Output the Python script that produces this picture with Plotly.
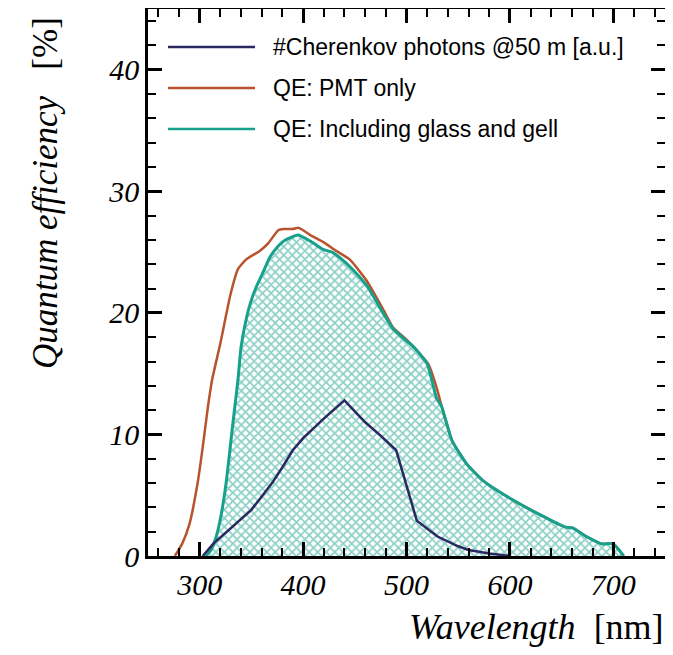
import plotly.graph_objects as go

# ---- data ----
pmt_nm = [276, 283, 290, 298, 303, 308, 312, 320, 325, 330, 337, 345, 358, 366, 376, 381,
          390, 395, 400, 407, 420, 432, 445, 461, 478, 487, 500, 510, 521, 529, 534, 544, 558,
          574, 603, 629, 653, 661, 674, 689, 700, 710]
pmt_qe = [0.0, 1.0, 2.6, 6.0, 9.0, 12.3, 14.5, 17.5, 19.6, 21.6, 23.6, 24.4, 25.1, 25.7,
          26.8, 26.9, 26.9, 27.0, 26.8, 26.4, 25.8, 25.1, 24.4, 22.7, 20.2, 18.8, 17.8, 16.9,
          15.8, 13.9, 12.3, 9.5, 7.6, 6.2, 4.6, 3.4, 2.4, 2.3, 1.6, 1.0, 1.0, 0.0]

glass_nm = [306, 311, 316, 321, 326, 331, 334, 337, 340, 345, 349, 355, 360, 368, 376, 381, 395,
            407, 420, 428, 439, 452, 462, 478, 487, 500, 507, 520, 529, 534, 544, 558, 574,
            603, 629, 653, 661, 674, 689, 700, 710]
glass_qe = [0.0, 0.5, 1.6, 3.5, 6.3, 10.1, 12.3, 14.5, 17.2, 19.5, 20.8, 22.2, 23.1, 24.6, 25.5,
            25.9, 26.4, 25.9, 25.2, 25.0, 24.3, 23.2, 22.2, 19.9, 18.7, 17.7, 17.2, 15.8, 13.0,
            12.3, 9.5, 7.6, 6.2, 4.6, 3.4, 2.4, 2.3, 1.6, 1.0, 1.0, 0.0]

cher_nm = [303, 313, 350, 370, 380, 390, 400, 420, 440, 460, 475, 490, 510, 530, 550, 560, 580, 600]
cher_val = [0.0, 1.0, 3.8, 6.0, 7.3, 8.7, 9.7, 11.3, 12.8, 11.0, 9.9, 8.7, 2.9, 1.6, 0.8, 0.5, 0.2, 0.0]

x_ticks = [300, 400, 500, 600, 700]
y_ticks = [0, 10, 20, 30, 40]

legend_labels = ["#Cherenkov photons @50 m [a.u.]", "QE: PMT only", "QE: Including glass and gell"]

NAVY = "#2b2760"
ORANGE = "#b9532e"
TEAL = "#17a08c"
colors = [NAVY, ORANGE, TEAL]

fig = go.Figure()
fig.add_trace(go.Scatter(
    x=glass_nm, y=glass_qe, mode="lines", fill="tozeroy",
    line=dict(width=0, color=TEAL, shape="spline", smoothing=0.5),
    fillcolor="rgba(255,255,255,0)",
    fillpattern=dict(shape="x", fgcolor=TEAL, bgcolor="white", size=6, solidity=0.5),
    showlegend=False, hoverinfo="skip"))
fig.add_trace(go.Scatter(x=pmt_nm, y=pmt_qe, mode="lines",
                         line=dict(color=ORANGE, width=2.5, shape="spline", smoothing=0.5), showlegend=False))
fig.add_trace(go.Scatter(x=glass_nm, y=glass_qe, mode="lines",
                         line=dict(color=TEAL, width=3, shape="spline", smoothing=0.5), showlegend=False))
fig.add_trace(go.Scatter(x=cher_nm, y=cher_val, mode="lines",
                         line=dict(color=NAVY, width=2.5), showlegend=False))

tickfont = dict(family="Liberation Serif", size=30, color="black")
axis_common = dict(showline=True, linecolor="black", linewidth=2.5, mirror="allticks",
                   ticks="inside", ticklen=14, tickwidth=2.5, tickcolor="black",
                   showgrid=False, zeroline=False, tickfont=tickfont, automargin=False)
fig.update_xaxes(range=[250, 750], tickvals=x_ticks, ticktext=[f"<i>{v}</i>" for v in x_ticks],
                 minor=dict(ticks="inside", ticklen=8, tickwidth=2, tickcolor="black", dtick=20, tick0=0),
                 **axis_common)
fig.update_yaxes(range=[0, 45], tickvals=y_ticks, ticktext=[f"<i>{v}</i>" for v in y_ticks],
                 minor=dict(ticks="inside", ticklen=8, tickwidth=2, tickcolor="black", dtick=2, tick0=0),
                 **axis_common)

# manual legend (positions in page pixels, converted to paper coords)
L, W, T, H = 148, 517, 9, 547
def px(x):
    return (x - L) / W
def py(y):
    return (T + H - y) / H
shapes = []
annotations = []
rows = [47, 88, 129]
for lab, col, yy in zip(legend_labels, colors, rows):
    shapes.append(dict(type="line", xref="paper", yref="paper", x0=px(168), x1=px(255),
                       y0=py(yy), y1=py(yy), line=dict(color=col, width=2.5)))
    annotations.append(dict(xref="paper", yref="paper", x=px(271), y=py(yy), text=lab,
                            showarrow=False, xanchor="left", yanchor="middle",
                            font=dict(family="Liberation Sans", size=23, color="black")))

annotations.append(dict(xref="paper", yref="paper", x=px(666), y=py(627),
                        text="<i>Wavelength</i>  [nm]", showarrow=False, xanchor="right", yanchor="middle",
                        font=dict(family="Liberation Serif", size=36, color="black")))
annotations.append(dict(xref="paper", yref="paper", x=px(45), y=py(193),
                        text="<i>Quantum efficiency</i>   [%]", showarrow=False, textangle=-90,
                        xanchor="center", yanchor="middle",
                        font=dict(family="Liberation Serif", size=35, color="black")))

# page body has an 8px margin: figure spans page x 8..673, y 8..647
fig.update_layout(width=665, height=639, margin=dict(l=140, r=8, t=1, b=91),
                  plot_bgcolor="white", paper_bgcolor="white",
                  shapes=shapes, annotations=annotations, showlegend=False)
fig.write_html("out.html")
